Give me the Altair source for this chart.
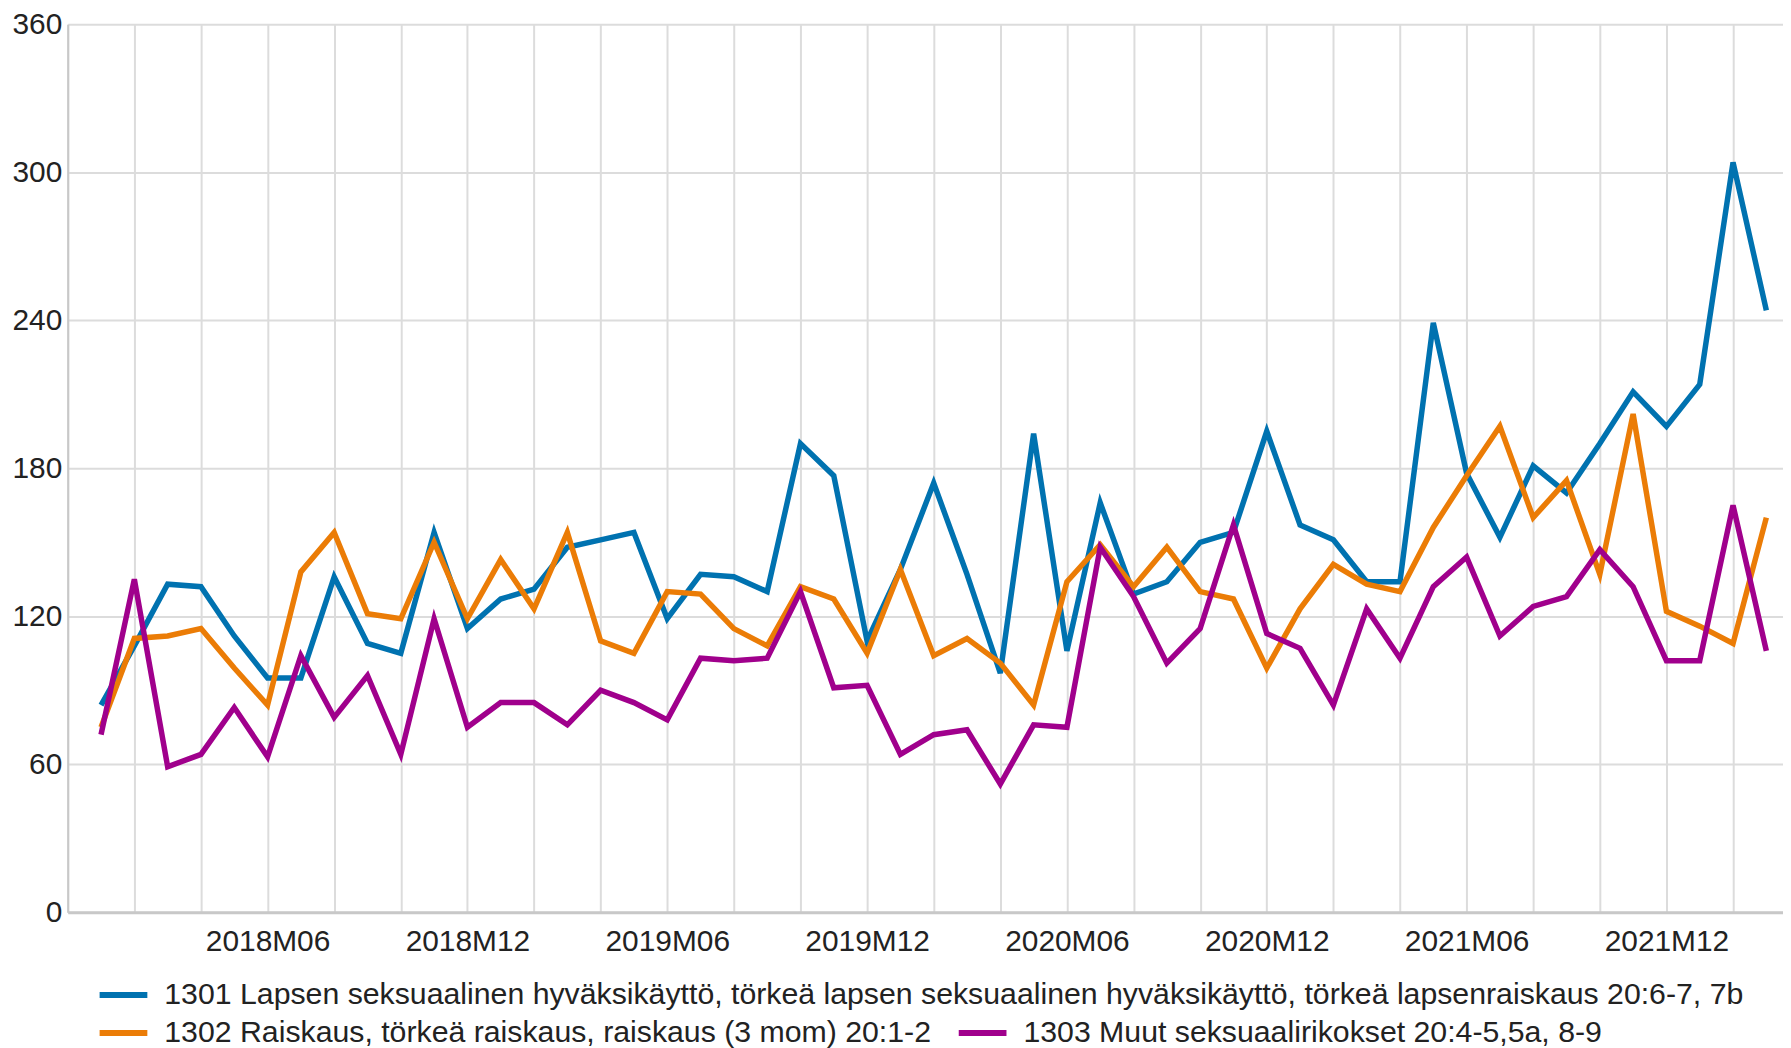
import altair as alt
import pandas as pd

months = [f"{y}M{m:02d}" for y in range(2018, 2023) for m in range(1, 13)][:51]

s1301 = [84, 108, 133, 132, 112, 95, 95, 136, 109, 105, 154, 115, 127, 131, 148, 151, 154, 119, 137, 136,
         130, 190, 177, 110, 139, 174, 137, 97, 194, 106, 166, 129, 134, 150, 154, 195, 157, 151, 134, 134,
         239, 178, 152, 181, 170, 190, 211, 197, 214, 304, 244]
s1302 = [75, 111, 112, 115, 99, 84, 138, 154, 121, 119, 150, 119, 143, 123, 154, 110, 105, 130, 129, 115,
         108, 132, 127, 105, 139, 104, 111, 101, 84, 134, 149, 132, 148, 130, 127, 99, 123, 141, 133, 130,
         156, 177, 197, 160, 175, 137, 202, 122, 116, 109, 160]
s1303 = [72, 135, 59, 64, 83, 63, 104, 79, 96, 64, 119, 75, 85, 85, 76, 90, 85, 78, 103, 102,
         103, 130, 91, 92, 64, 72, 74, 52, 76, 75, 148, 128, 101, 115, 157, 113, 107, 84, 123, 103,
         132, 144, 112, 124, 128, 147, 132, 102, 102, 165, 106]

names = [
    "1301 Lapsen seksuaalinen hyväksikäyttö, törkeä lapsen seksuaalinen hyväksikäyttö, törkeä lapsenraiskaus 20:6-7, 7b",
    "1302 Raiskaus, törkeä raiskaus, raiskaus (3 mom) 20:1-2",
    "1303 Muut seksuaalirikokset 20:4-5,5a, 8-9",
]
colors = ["#0072B0", "#EB7C06", "#A0008C"]

rows = []
for name, vals in zip(names, [s1301, s1302, s1303]):
    for i, (m, v) in enumerate(zip(months, vals)):
        rows.append({"series": name, "month": m, "idx": i, "value": v})
df = pd.DataFrame(rows)

FONT = "Liberation Sans"
FS = 30
label_expr = ("(datum.value + 1) % 6 == 0 && datum.value >= 5 ? "
              "(2018 + floor(datum.value / 12)) + 'M' + ((datum.value % 12) + 1 < 10 ? '0' : '') + ((datum.value % 12) + 1) : ''")

x_enc = alt.X("idx:Q",
              scale=alt.Scale(domain=[-1, 50.5], nice=False, zero=False),
              axis=alt.Axis(values=list(range(-1, 52, 2)), labelExpr=label_expr, title=None,
                            ticks=False, tickSize=0, labelPadding=14, labelFontSize=FS,
                            labelFont=FONT, labelColor="#222222", grid=True,
                            gridColor="#dcdcdc", gridWidth=2, domainColor="#c8c8c8",
                            domainWidth=3, labelFlush=False, labelOverlap=False))
y_enc = alt.Y("value:Q",
              scale=alt.Scale(domain=[0, 360], nice=False),
              axis=alt.Axis(values=[0, 60, 120, 180, 240, 300, 360], title=None, ticks=False,
                            tickSize=0, labelPadding=6, labelFontSize=FS, labelFont=FONT,
                            labelColor="#222222", grid=True, gridColor="#dcdcdc", gridWidth=2,
                            domainColor="#c8c8c8", domainWidth=2, labelFlush=False))

leg_common = dict(orient="none", title=None, symbolType="stroke", symbolSize=2300,
                  symbolStrokeWidth=6, labelFontSize=30.4, labelFont=FONT, labelColor="#222222",
                  labelOffset=14, labelLimit=2000, direction="horizontal", columnPadding=15)

line1 = alt.Chart(df[df.series == names[0]]).mark_line(strokeWidth=5.5).encode(
    x=x_enc, y=y_enc,
    color=alt.Color("series:N", scale=alt.Scale(domain=[names[0]], range=[colors[0]]),
                    legend=alt.Legend(legendX=29, legendY=948, **leg_common)),
)
line23 = alt.Chart(df[df.series != names[0]]).mark_line(strokeWidth=5.5).encode(
    x=x_enc, y=y_enc,
    stroke=alt.Stroke("series:N", scale=alt.Scale(domain=names[1:], range=colors[1:]),
                      legend=alt.Legend(legendX=29, legendY=986, **leg_common)),
)

chart = alt.layer(line1, line23).resolve_scale(color="independent", stroke="independent").properties(
    width=1723, height=892,
    autosize=alt.AutoSizeParams(type="none"),
    padding={"left": 60, "top": 14, "right": 0, "bottom": 134},
).configure_view(stroke=None)

chart.save("out.html", embed_options={"renderer": "svg", "actions": False})
